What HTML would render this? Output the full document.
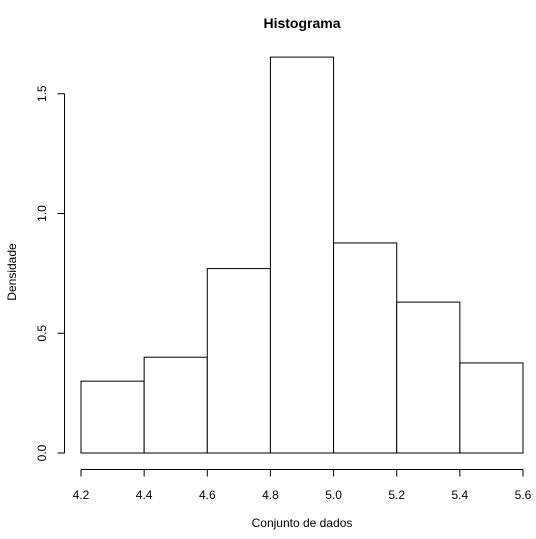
<!DOCTYPE html>
<html><head><meta charset="utf-8"><style>
body{margin:0;background:#fff}
svg{display:block;font-family:"Liberation Sans",Arial,sans-serif}
</style></head><body>
<svg id="chart" width="536" height="539">
<text x="302" y="28" text-anchor="middle" font-weight="bold" font-size="14">Histograma</text>
<text x="302" y="527" text-anchor="middle" font-size="12">Conjunto de dados</text>
<text transform="translate(16,272) rotate(-90)" text-anchor="middle" font-size="12">Densidade</text>
<g id="bars"></g><g id="xaxis"></g><g id="yaxis"></g>
</svg>
<script>
const breaks=[4.2,4.4,4.6,4.8,5.0,5.2,5.4,5.6];
const densities=[0.30,0.40,0.77,1.653,0.877,0.63,0.376];
const xTicks=[4.2,4.4,4.6,4.8,5.0,5.2,5.4,5.6];
const yTicks=[0,0.5,1.0,1.5];
const NS="http://www.w3.org/2000/svg";
const xs=v=>81+(v-4.2)/1.4*442;
const ys=v=>453-v*239.5;
function mk(t,a,p){const e=document.createElementNS(NS,t);for(const k in a)e.setAttribute(k,a[k]);p.appendChild(e);return e;}
const bars=document.getElementById('bars');
densities.forEach((d,i)=>{
 const r=mk('rect',{x:xs(breaks[i]),y:ys(d),width:xs(breaks[i+1])-xs(breaks[i]),height:ys(0)-ys(d),fill:'#fff',stroke:'#000','stroke-width':1},bars);
 
 
});
const xa=document.getElementById('xaxis');


mk('line',{x1:xs(xTicks[0]),x2:xs(xTicks[xTicks.length-1]),y1:469.5,y2:469.5,stroke:'#000'},xa);
xTicks.forEach(t=>{
 mk('line',{x1:xs(t),x2:xs(t),y1:469.5,y2:476.5,stroke:'#000'},xa);
 const l=mk('text',{x:xs(t),y:499,'text-anchor':'middle','font-size':12},xa);
 l.textContent=t.toFixed(1);
 
 
});
const ya=document.getElementById('yaxis');


mk('line',{x1:64.5,x2:64.5,y1:ys(yTicks[0]),y2:ys(yTicks[yTicks.length-1]),stroke:'#000'},ya);
yTicks.forEach(t=>{
 mk('line',{x1:57.5,x2:64.5,y1:ys(t),y2:ys(t),stroke:'#000'},ya);
 const l=mk('text',{transform:`translate(46,${ys(t)}) rotate(-90)`,'text-anchor':'middle','font-size':12},ya);
 l.textContent=t.toFixed(1);
 
 
});
</script>
</body></html>
